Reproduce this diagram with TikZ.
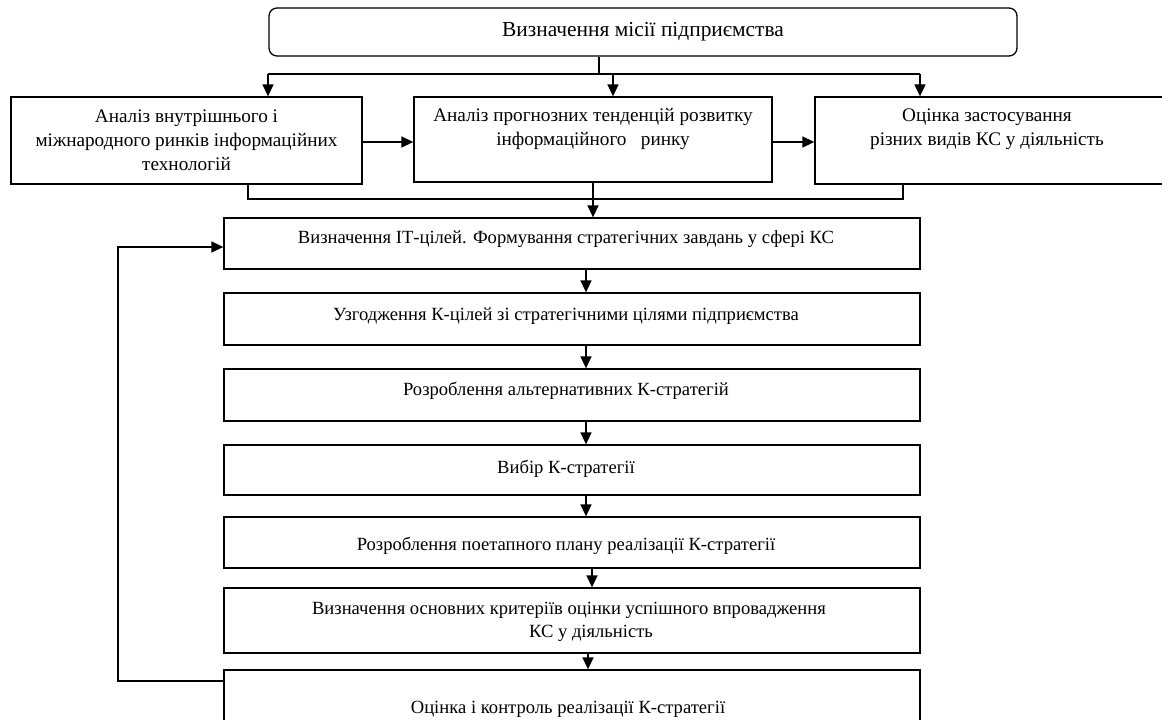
\documentclass[tikz,border=0pt]{standalone}
\usepackage{fontspec}
\setmainfont{Liberation Serif}
\usetikzlibrary{arrows.meta}
\newcommand{\fs}{\fontsize{18.6pt}{23pt}\selectfont}
\newcommand{\fsa}{\fontsize{19.2pt}{24pt}\selectfont}
\newcommand{\fsb}{\fontsize{21.4pt}{24pt}\selectfont}
\begin{document}
\begin{tikzpicture}[x=1pt,y=-1pt,
  box/.style={draw, line width=1.3pt, inner sep=0pt, minimum width=696pt},
  topbox/.style={draw, line width=1.3pt, inner sep=0pt},
  txt/.style={align=center, font=\fs, inner sep=0pt},
  txta/.style={align=center, font=\fsa, inner sep=0pt},
  conn/.style={line width=1.5pt},
  arr/.style={line width=1.5pt, -{Triangle[length=12pt,width=11pt]}}]
\useasboundingbox (0,0) rectangle (1162,720);
\clip (0,0) rectangle (1162,720);
\fill[white] (0,0) rectangle (1162,720);
% top
\node[draw, line width=1.3pt, rounded corners=8pt, minimum width=748pt, minimum height=48pt, font=\fsb] (mis) at (643,32) {Визначення місії підприємства};
% three boxes
\node[topbox, minimum width=351pt, minimum height=87pt,
  label={[txta]center:{Аналіз внутрішнього і\\міжнародного ринків інформаційних\\технологій}}] (a1) at (186.5,140.5) {};
\node[topbox, minimum width=358pt, minimum height=85pt,
  label={[txta,yshift=11pt]center:{Аналіз прогнозних тенденцій розвитку\\інформаційного~~ ринку}}] (a2) at (593,139.5) {};
\node[topbox, minimum width=360pt, minimum height=87pt,
  label={[txta,xshift=-8pt,yshift=11pt]center:{Оцінка застосування\\різних видів КС у діяльність}}] (a3) at (995,140.5) {};
% column
\node[box, minimum height=51pt, label={[txt,xshift=-6pt,yshift=4pt]center:{Визначення ІТ-цілей. Формування стратегічних завдань у сфері КС}}] (s1) at (572,243.5) {};
\node[box, minimum height=52pt, label={[txt,xshift=-6pt,yshift=3pt]center:{Узгодження К-цілей зі стратегічними цілями підприємства}}] (s2) at (572,319) {};
\node[box, minimum height=52pt, label={[txt,xshift=-6pt,yshift=4pt]center:{Розроблення альтернативних К-стратегій}}] (s3) at (572,395) {};
\node[box, minimum height=50pt, label={[txt,xshift=-6pt,yshift=1pt]center:{Вибір К-стратегії}}] (s4) at (572,470) {};
\node[box, minimum height=51pt, label={[txt,xshift=-6pt,yshift=-3pt]center:{Розроблення поетапного плану реалізації К-стратегії}}] (s5) at (572,542.5) {};
\node[box, minimum height=65pt, label={[txt,xshift=-3pt,yshift=-1pt]center:{Визначення основних критеріїв оцінки успішного впровадження\\\hspace*{44pt}КС у діяльність}}] (s6) at (572,620.5) {};
\node[box, minimum height=70pt, label={[txt,xshift=-4pt,yshift=-4pt]center:{Оцінка і контроль реалізації К-стратегії}}] (s7) at (572,705) {};
% distribution from mission
\coordinate (j0) at (599,74);
\coordinate (jl) at (268,74);
\coordinate (jm) at (613,74);
\coordinate (jr) at (920,74);
\draw[conn] (mis.south -| j0) -- (j0);
\draw[conn] (jl) -- (jr);
\draw[arr] (jl) -- (jl |- a1.north);
\draw[arr] (jm) -- (jm |- a2.north);
\draw[arr] (jr) -- (jr |- a3.north);
% horizontal arrows
\draw[arr] (a1.east |- 0,142) -- (a2.west |- 0,142);
\draw[arr] (a2.east |- 0,142) -- (a3.west |- 0,142);
% collector
\coordinate (cl) at (248,199);
\coordinate (cr) at (903,199);
\draw[conn] (a1.south -| cl) -- (cl) -- (cr) -- (a3.south -| cr);
\draw[arr] (a2.south -| 593,0) -- (s1.north -| 593,0);
% chain
\draw[arr] (s1.south -| 586,0) -- (s2.north -| 586,0);
\draw[arr] (s2.south -| 586,0) -- (s3.north -| 586,0);
\draw[arr] (s3.south -| 586,0) -- (s4.north -| 586,0);
\draw[arr] (s4.south -| 586,0) -- (s5.north -| 586,0);
\draw[arr] (s5.south -| 592,0) -- (s6.north -| 592,0);
\draw[arr] (s6.south -| 588,0) -- (s7.north -| 588,0);
% feedback
\coordinate (fb1) at (118,681);
\coordinate (fb2) at (118,247);
\draw[arr] (s7.west |- fb1) -- (fb1) -- (fb2) -- (s1.west |- fb2);
\end{tikzpicture}
\end{document}
